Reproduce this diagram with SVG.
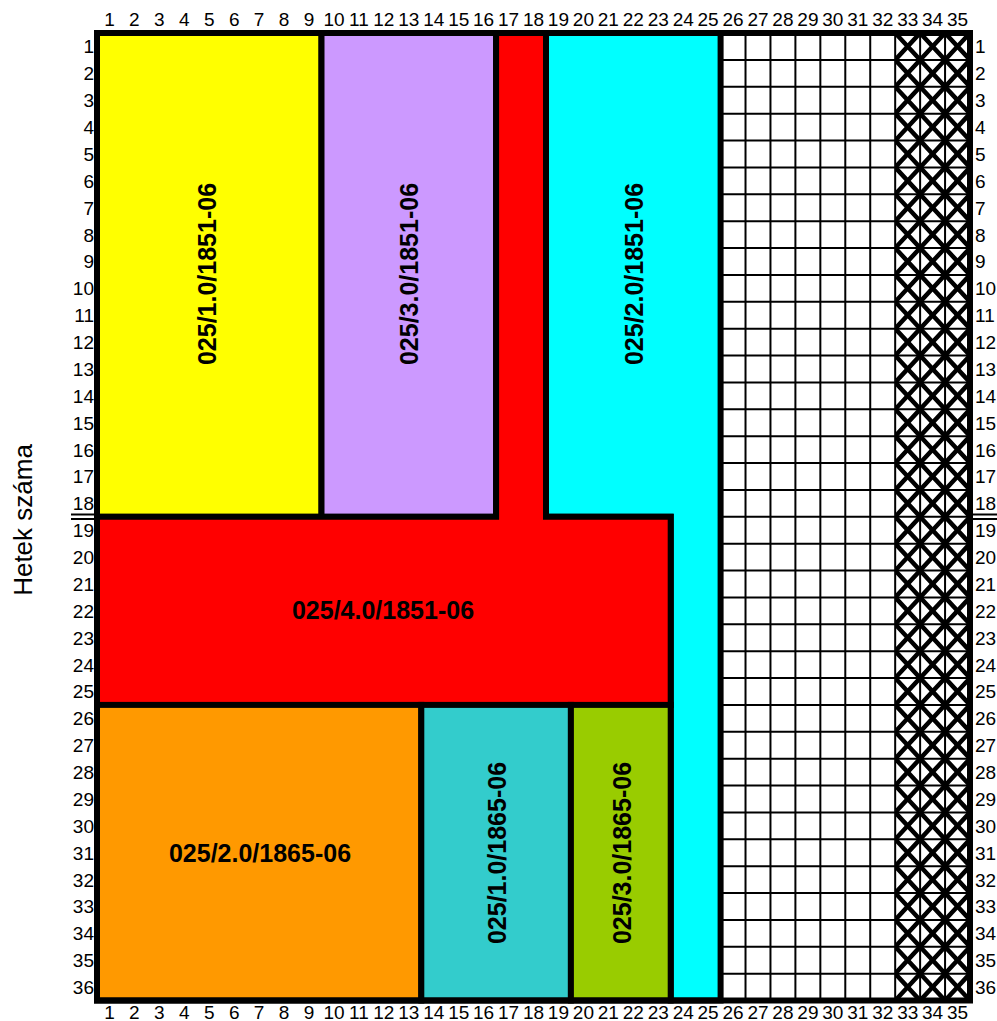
<svg xmlns="http://www.w3.org/2000/svg" width="997" height="1021" viewBox="0 0 997 1021">
<style>
text{font-family:"Liberation Sans",Arial,sans-serif;fill:#000}
.tk{font-size:19px}
.lbl{font-size:25px;font-weight:bold;text-anchor:middle}
.reg{stroke:#000;stroke-width:6;stroke-linejoin:miter}
.thin{stroke:#000;stroke-width:2;fill:none;vector-effect:non-scaling-stroke}
.diag{stroke:#000;stroke-width:4.5;fill:none;vector-effect:non-scaling-stroke}
.dbl{stroke:#000;stroke-width:2}
</style>
<defs>
<clipPath id="hclip"><rect x="895.2" y="33" width="74.8" height="967.5"/></clipPath>
</defs>
<rect width="997" height="1021" fill="#fff"/>
<g id="empty-area">
<rect x="720.6" y="33" width="249.4" height="967.5" fill="#fff"/>
<g transform="translate(97,33) scale(24.943,26.875)">
<path class="thin" d="M26 0V36M27 0V36M28 0V36M29 0V36M30 0V36M31 0V36M32 0V36M33 0V36M34 0V36M25 1H35M25 2H35M25 3H35M25 4H35M25 5H35M25 6H35M25 7H35M25 8H35M25 9H35M25 10H35M25 11H35M25 12H35M25 13H35M25 14H35M25 15H35M25 16H35M25 17H35M25 18H35M25 19H35M25 20H35M25 21H35M25 22H35M25 23H35M25 24H35M25 25H35M25 26H35M25 27H35M25 28H35M25 29H35M25 30H35M25 31H35M25 32H35M25 33H35M25 34H35M25 35H35"/>
</g>
</g>
<g id="hatched-area" clip-path="url(#hclip)">
<g transform="translate(97,33) scale(24.943,26.875)">
<path class="diag" d="M32 -2L35 1M32 -1L35 2M32 0L35 3M32 1L35 4M32 2L35 5M32 3L35 6M32 4L35 7M32 5L35 8M32 6L35 9M32 7L35 10M32 8L35 11M32 9L35 12M32 10L35 13M32 11L35 14M32 12L35 15M32 13L35 16M32 14L35 17M32 15L35 18M32 16L35 19M32 17L35 20M32 18L35 21M32 19L35 22M32 20L35 23M32 21L35 24M32 22L35 25M32 23L35 26M32 24L35 27M32 25L35 28M32 26L35 29M32 27L35 30M32 28L35 31M32 29L35 32M32 30L35 33M32 31L35 34M32 32L35 35M32 33L35 36M32 34L35 37M32 35L35 38"/>
<path class="diag" d="M32 1L35 -2M32 2L35 -1M32 3L35 0M32 4L35 1M32 5L35 2M32 6L35 3M32 7L35 4M32 8L35 5M32 9L35 6M32 10L35 7M32 11L35 8M32 12L35 9M32 13L35 10M32 14L35 11M32 15L35 12M32 16L35 13M32 17L35 14M32 18L35 15M32 19L35 16M32 20L35 17M32 21L35 18M32 22L35 19M32 23L35 20M32 24L35 21M32 25L35 22M32 26L35 23M32 27L35 24M32 28L35 25M32 29L35 26M32 30L35 27M32 31L35 28M32 32L35 29M32 33L35 30M32 34L35 31M32 35L35 32M32 36L35 33M32 37L35 34M32 38L35 35"/>
</g>
</g>
<g id="n-025-1-0-1851">
<rect class="reg" x="97" y="33" width="224.5" height="483.8" fill="#ffff00"/>
<text class="lbl" transform="translate(215.5,274) rotate(-90)">025/1.0/1851-06</text>
</g>
<g id="n-025-3-0-1851">
<rect class="reg" x="321.5" y="33" width="174.6" height="483.8" fill="#cc99ff"/>
<text class="lbl" transform="translate(417.5,274) rotate(-90)">025/3.0/1851-06</text>
</g>
<g id="n-025-2-0-1851">
<polygon class="reg" points="546,33 720.6,33 720.6,1000.5 670.7,1000.5 670.7,516.8 546,516.8" fill="#00ffff"/>
<text class="lbl" transform="translate(642.5,274) rotate(-90)">025/2.0/1851-06</text>
</g>
<g id="n-025-4-0-1851">
<polygon class="reg" points="496.1,33 546,33 546,516.8 670.7,516.8 670.7,704.9 97,704.9 97,516.8 496.1,516.8" fill="#ff0000"/>
<text class="lbl" x="383" y="618.5">025/4.0/1851-06</text>
</g>
<g id="n-025-2-0-1865">
<rect class="reg" x="97" y="704.9" width="324.3" height="295.6" fill="#ff9900"/>
<text class="lbl" x="260" y="861.5">025/2.0/1865-06</text>
</g>
<g id="n-025-1-0-1865">
<rect class="reg" x="421.3" y="704.9" width="149.6" height="295.6" fill="#33cccc"/>
<text class="lbl" transform="translate(505.5,853) rotate(-90)">025/1.0/1865-06</text>
</g>
<g id="n-025-3-0-1865">
<rect class="reg" x="570.9" y="704.9" width="99.8" height="295.6" fill="#99cc00"/>
<text class="lbl" transform="translate(630.5,853) rotate(-90)">025/3.0/1865-06</text>
</g>
<g id="frame">
<rect x="97" y="33" width="873" height="967.5" fill="none" stroke="#000" stroke-width="6"/>
<line class="dbl" x1="71" y1="514.5" x2="97" y2="514.5"/>
<line class="dbl" x1="71" y1="519" x2="97" y2="519"/>
<line class="dbl" x1="970" y1="514.5" x2="997" y2="514.5"/>
<line class="dbl" x1="970" y1="519" x2="997" y2="519"/>
</g>
<g id="axis-labels">
<text style="font-size:26px" text-anchor="middle" transform="translate(32,520) rotate(-90)">Hetek száma</text>
<text class="tk" y="26" text-anchor="middle"><tspan x="109.5">1</tspan><tspan x="134.4">2</tspan><tspan x="159.4">3</tspan><tspan x="184.3">4</tspan><tspan x="209.2">5</tspan><tspan x="234.2">6</tspan><tspan x="259.1">7</tspan><tspan x="284.1">8</tspan><tspan x="309">9</tspan><tspan x="334">10</tspan><tspan x="358.9">11</tspan><tspan x="383.8">12</tspan><tspan x="408.8">13</tspan><tspan x="433.7">14</tspan><tspan x="458.7">15</tspan><tspan x="483.6">16</tspan><tspan x="508.6">17</tspan><tspan x="533.5">18</tspan><tspan x="558.4">19</tspan><tspan x="583.4">20</tspan><tspan x="608.3">21</tspan><tspan x="633.3">22</tspan><tspan x="658.2">23</tspan><tspan x="683.2">24</tspan><tspan x="708.1">25</tspan><tspan x="733">26</tspan><tspan x="758">27</tspan><tspan x="782.9">28</tspan><tspan x="807.9">29</tspan><tspan x="832.8">30</tspan><tspan x="857.8">31</tspan><tspan x="882.7">32</tspan><tspan x="907.7">33</tspan><tspan x="932.6">34</tspan><tspan x="957.5">35</tspan></text>
<text class="tk" y="1019" text-anchor="middle"><tspan x="109.5">1</tspan><tspan x="134.4">2</tspan><tspan x="159.4">3</tspan><tspan x="184.3">4</tspan><tspan x="209.2">5</tspan><tspan x="234.2">6</tspan><tspan x="259.1">7</tspan><tspan x="284.1">8</tspan><tspan x="309">9</tspan><tspan x="334">10</tspan><tspan x="358.9">11</tspan><tspan x="383.8">12</tspan><tspan x="408.8">13</tspan><tspan x="433.7">14</tspan><tspan x="458.7">15</tspan><tspan x="483.6">16</tspan><tspan x="508.6">17</tspan><tspan x="533.5">18</tspan><tspan x="558.4">19</tspan><tspan x="583.4">20</tspan><tspan x="608.3">21</tspan><tspan x="633.3">22</tspan><tspan x="658.2">23</tspan><tspan x="683.2">24</tspan><tspan x="708.1">25</tspan><tspan x="733">26</tspan><tspan x="758">27</tspan><tspan x="782.9">28</tspan><tspan x="807.9">29</tspan><tspan x="832.8">30</tspan><tspan x="857.8">31</tspan><tspan x="882.7">32</tspan><tspan x="907.7">33</tspan><tspan x="932.6">34</tspan><tspan x="957.5">35</tspan></text>
<text class="tk" text-anchor="end"><tspan x="94" y="53.4">1</tspan><tspan x="94" y="80.3">2</tspan><tspan x="94" y="107.2">3</tspan><tspan x="94" y="134.1">4</tspan><tspan x="94" y="160.9">5</tspan><tspan x="94" y="187.8">6</tspan><tspan x="94" y="214.7">7</tspan><tspan x="94" y="241.6">8</tspan><tspan x="94" y="268.4">9</tspan><tspan x="94" y="295.3">10</tspan><tspan x="94" y="322.2">11</tspan><tspan x="94" y="349.1">12</tspan><tspan x="94" y="375.9">13</tspan><tspan x="94" y="402.8">14</tspan><tspan x="94" y="429.7">15</tspan><tspan x="94" y="456.6">16</tspan><tspan x="94" y="483.4">17</tspan><tspan x="94" y="510.3">18</tspan><tspan x="94" y="537.2">19</tspan><tspan x="94" y="564.1">20</tspan><tspan x="94" y="590.9">21</tspan><tspan x="94" y="617.8">22</tspan><tspan x="94" y="644.7">23</tspan><tspan x="94" y="671.6">24</tspan><tspan x="94" y="698.4">25</tspan><tspan x="94" y="725.3">26</tspan><tspan x="94" y="752.2">27</tspan><tspan x="94" y="779.1">28</tspan><tspan x="94" y="805.9">29</tspan><tspan x="94" y="832.8">30</tspan><tspan x="94" y="859.7">31</tspan><tspan x="94" y="886.6">32</tspan><tspan x="94" y="913.4">33</tspan><tspan x="94" y="940.3">34</tspan><tspan x="94" y="967.2">35</tspan><tspan x="94" y="994.1">36</tspan></text>
<text class="tk"><tspan x="975" y="53.4">1</tspan><tspan x="975" y="80.3">2</tspan><tspan x="975" y="107.2">3</tspan><tspan x="975" y="134.1">4</tspan><tspan x="975" y="160.9">5</tspan><tspan x="975" y="187.8">6</tspan><tspan x="975" y="214.7">7</tspan><tspan x="975" y="241.6">8</tspan><tspan x="975" y="268.4">9</tspan><tspan x="975" y="295.3">10</tspan><tspan x="975" y="322.2">11</tspan><tspan x="975" y="349.1">12</tspan><tspan x="975" y="375.9">13</tspan><tspan x="975" y="402.8">14</tspan><tspan x="975" y="429.7">15</tspan><tspan x="975" y="456.6">16</tspan><tspan x="975" y="483.4">17</tspan><tspan x="975" y="510.3">18</tspan><tspan x="975" y="537.2">19</tspan><tspan x="975" y="564.1">20</tspan><tspan x="975" y="590.9">21</tspan><tspan x="975" y="617.8">22</tspan><tspan x="975" y="644.7">23</tspan><tspan x="975" y="671.6">24</tspan><tspan x="975" y="698.4">25</tspan><tspan x="975" y="725.3">26</tspan><tspan x="975" y="752.2">27</tspan><tspan x="975" y="779.1">28</tspan><tspan x="975" y="805.9">29</tspan><tspan x="975" y="832.8">30</tspan><tspan x="975" y="859.7">31</tspan><tspan x="975" y="886.6">32</tspan><tspan x="975" y="913.4">33</tspan><tspan x="975" y="940.3">34</tspan><tspan x="975" y="967.2">35</tspan><tspan x="975" y="994.1">36</tspan></text>
</g>
</svg>
